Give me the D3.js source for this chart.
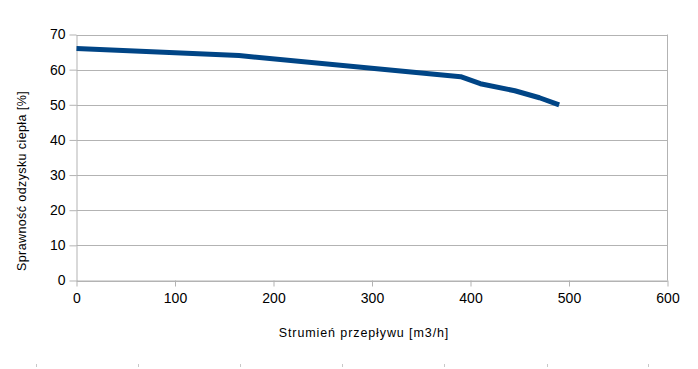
<!DOCTYPE html>
<html><head><meta charset="utf-8">
<script src="https://cdn.jsdelivr.net/npm/d3@7"></script>
<style>body{margin:0;background:#fff}svg{display:block}text{font-family:"Liberation Sans",Arial,sans-serif;fill:#000}</style>
</head><body>
<svg id="c" width="698" height="369"></svg>
<script>
const flowValues = [0, 165, 390, 410, 445, 470, 490];
const efficiencyValues = [66, 64, 58, 56, 54, 52, 50];
const xTicks = [0, 100, 200, 300, 400, 500, 600];
const yTicks = [0, 10, 20, 30, 40, 50, 60, 70];
const xTitle = "Strumień przepływu [m3/h]";
const yTitle = "Sprawność odzysku ciepła [%]";
const footMarks = [36, 138, 240, 342, 444, 547, 648];

const svg = d3.select("#c");
const pLeft = 76.5, pRight = 667.5, pTop = 34.5, pBottom = 280.5;
const x = d3.scaleLinear().domain([0, 600]).range([pLeft, pRight]);
const y = d3.scaleLinear().domain([0, 70]).range([pBottom, pTop]);

// grid
svg.append("g").selectAll("line").data(yTicks).join("line")
  .attr("x1", pLeft).attr("x2", pRight)
  .attr("y1", d => Math.round(y(d)) + 0.5).attr("y2", d => Math.round(y(d)) + 0.5)
  .attr("stroke", "#b3b3b3").attr("stroke-width", 1);
svg.append("line").attr("x1", pRight).attr("x2", pRight).attr("y1", pTop).attr("y2", pBottom)
  .attr("stroke", "#b3b3b3");

// axes
const xAxis = d3.axisBottom(x).tickValues(xTicks).tickSize(6).tickPadding(7).tickSizeOuter(0);
const gx = svg.append("g").attr("transform", `translate(0,${pBottom})`).call(xAxis);
const yAxis = d3.axisLeft(y).tickValues(yTicks).tickSize(7).tickPadding(4).tickSizeOuter(0);
const gy = svg.append("g").attr("transform", `translate(${pLeft},0)`).call(yAxis);
[gx, gy].forEach(g => {
  g.select(".domain").attr("stroke", "#b3b3b3");
  g.selectAll(".tick line").attr("stroke", "#b3b3b3");
  g.selectAll(".tick text").attr("font-family", "Liberation Sans, Arial, sans-serif").attr("font-size", 14).attr("fill", "#000");
});

// line
const data = flowValues.map((v, i) => [v, efficiencyValues[i]]);
svg.append("path").datum(data)
  .attr("fill", "none").attr("stroke", "#004586").attr("stroke-width", 5)
  .attr("stroke-linejoin", "round")
  .attr("d", d3.line().x(d => x(d[0])).y(d => y(d[1])));

// titles
svg.append("text").attr("x", 364).attr("y", 337).attr("text-anchor", "middle")
  .attr("font-size", 12.5).attr("letter-spacing", 0.9).text(xTitle);
svg.append("text").attr("transform", "translate(26,181) rotate(-90)")
  .attr("text-anchor", "middle").attr("font-size", 12.5).attr("letter-spacing", 0.4).text(yTitle);

// footer marks
svg.append("g").selectAll("line").data(footMarks).join("line")
  .attr("x1", d => d + 0.5).attr("x2", d => d + 0.5).attr("y1", 364).attr("y2", 367)
  .attr("stroke", "#c8c8c8");
</script>
</body></html>
